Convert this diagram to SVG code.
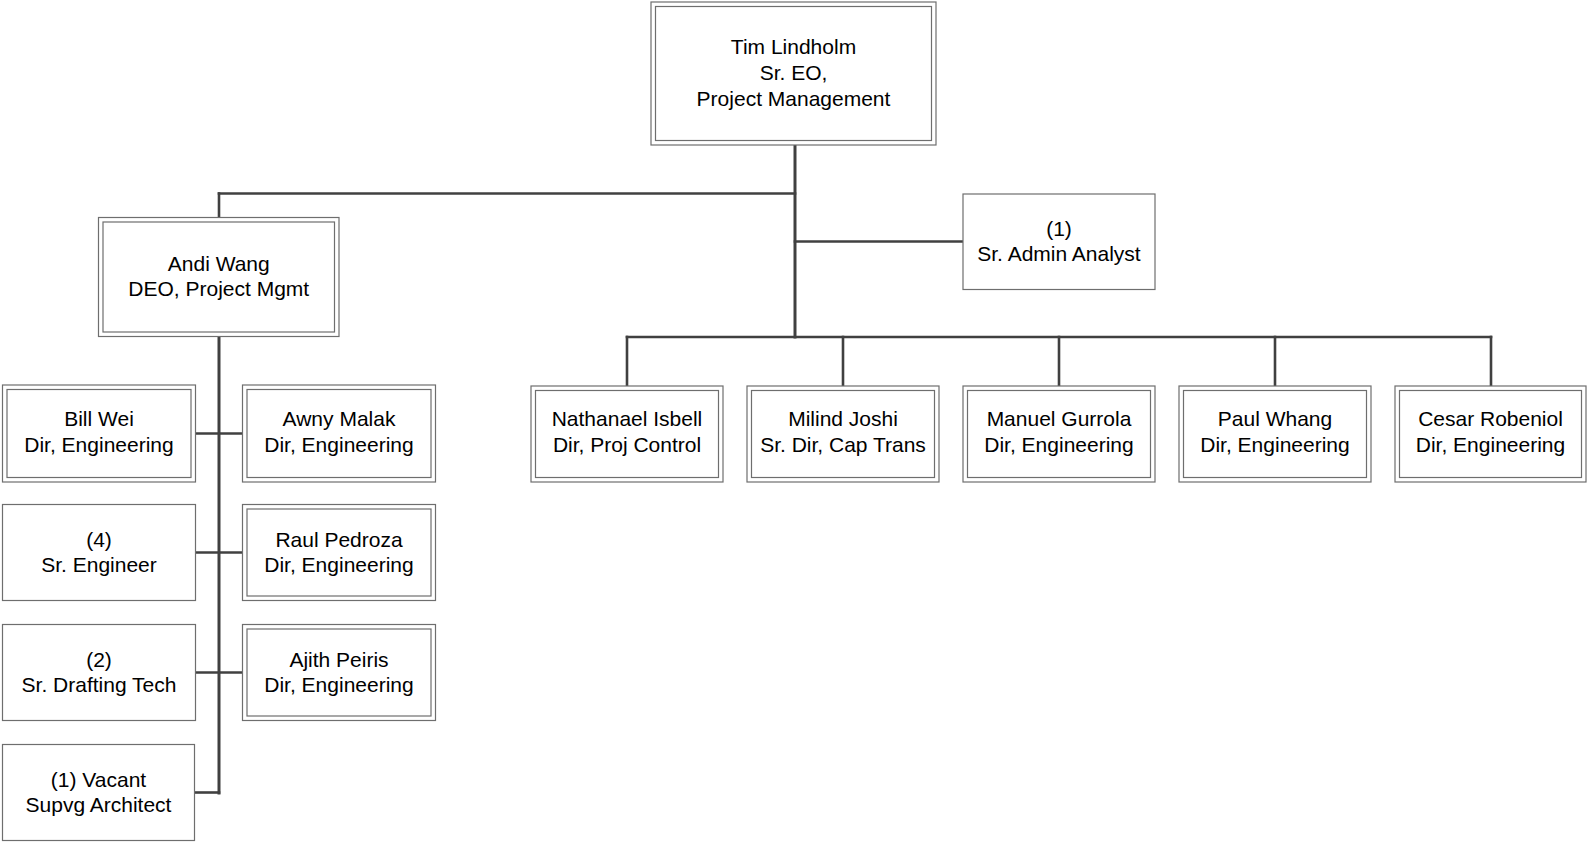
<svg xmlns="http://www.w3.org/2000/svg" width="1587" height="843" viewBox="0 0 1587 843">
<style>
  .o{fill:#fff;stroke:#6e6e6e;stroke-width:1.2}
  .i{fill:none;stroke:#6e6e6e;stroke-width:1.2}
  .s{fill:#fff;stroke:#6e6e6e;stroke-width:1.2}
  text{font-family:"Liberation Sans",Arial,sans-serif;font-size:21px;fill:#000;text-anchor:middle}
  .c line{stroke:#404040;stroke-width:2.6;stroke-linecap:square}
  .c line.t{stroke-width:3}
</style>
<rect width="1587" height="843" fill="#fff"/>
<g class="c" id="connectors">
  <line class="t" x1="795" y1="145" x2="795" y2="337"/>
  <line x1="219" y1="193.5" x2="795" y2="193.5"/>
  <line x1="219" y1="193.5" x2="219" y2="217.5"/>
  <line x1="795" y1="241.5" x2="963" y2="241.5"/>
  <line x1="627" y1="337" x2="1491" y2="337"/>
  <line x1="627" y1="337" x2="627" y2="386"/>
  <line x1="843" y1="337" x2="843" y2="386"/>
  <line x1="1059" y1="337" x2="1059" y2="386"/>
  <line x1="1275" y1="337" x2="1275" y2="386"/>
  <line x1="1491" y1="337" x2="1491" y2="386"/>
  <line class="t" x1="219" y1="337" x2="219" y2="793"/>
  <line x1="196" y1="433.5" x2="242.5" y2="433.5"/>
  <line x1="196" y1="552.5" x2="242.5" y2="552.5"/>
  <line x1="196" y1="672.5" x2="242.5" y2="672.5"/>
  <line x1="196" y1="792.5" x2="219" y2="792.5"/>
</g>
<g id="tim">
  <rect class="o" x="651" y="2" width="285" height="143"/>
  <rect class="i" x="655.5" y="6.5" width="276" height="134"/>
  <text x="793.5" y="54">Tim Lindholm</text>
  <text x="793.5" y="80">Sr. EO,</text>
  <text x="793.5" y="106">Project Management</text>
</g>
<g id="andi">
  <rect class="o" x="98.5" y="217.5" width="240.5" height="119"/>
  <rect class="i" x="103" y="222" width="231.5" height="110"/>
  <text x="218.75" y="270.5">Andi Wang</text>
  <text x="218.75" y="296">DEO, Project Mgmt</text>
</g>
<g id="admin">
  <rect class="s" x="963" y="194" width="192" height="95.5"/>
  <text x="1059" y="236">(1)</text>
  <text x="1059" y="261">Sr. Admin Analyst</text>
</g>
<g id="nathanael">
  <rect class="o" x="531" y="386" width="192" height="96"/>
  <rect class="i" x="535.5" y="390.5" width="183" height="87"/>
  <text x="627" y="426">Nathanael Isbell</text>
  <text x="627" y="451.5">Dir, Proj Control</text>
</g>
<g id="milind">
  <rect class="o" x="747" y="386" width="192" height="96"/>
  <rect class="i" x="751.5" y="390.5" width="183" height="87"/>
  <text x="843" y="426">Milind Joshi</text>
  <text x="843" y="451.5">Sr. Dir, Cap Trans</text>
</g>
<g id="manuel">
  <rect class="o" x="963" y="386" width="192" height="96"/>
  <rect class="i" x="967.5" y="390.5" width="183" height="87"/>
  <text x="1059" y="426">Manuel Gurrola</text>
  <text x="1059" y="451.5">Dir, Engineering</text>
</g>
<g id="paul">
  <rect class="o" x="1179" y="386" width="192" height="96"/>
  <rect class="i" x="1183.5" y="390.5" width="183" height="87"/>
  <text x="1275" y="426">Paul Whang</text>
  <text x="1275" y="451.5">Dir, Engineering</text>
</g>
<g id="cesar">
  <rect class="o" x="1395" y="386" width="191" height="96"/>
  <rect class="i" x="1399.5" y="390.5" width="182" height="87"/>
  <text x="1490.5" y="426">Cesar Robeniol</text>
  <text x="1490.5" y="451.5">Dir, Engineering</text>
</g>
<g id="bill">
  <rect class="o" x="2.5" y="385" width="193" height="97"/>
  <rect class="i" x="7" y="389.5" width="184" height="88"/>
  <text x="99" y="426">Bill Wei</text>
  <text x="99" y="451.5">Dir, Engineering</text>
</g>
<g id="awny">
  <rect class="o" x="242.5" y="385" width="193" height="97"/>
  <rect class="i" x="247" y="389.5" width="184" height="88"/>
  <text x="339" y="426">Awny Malak</text>
  <text x="339" y="451.5">Dir, Engineering</text>
</g>
<g id="sr-engineer">
  <rect class="s" x="2.5" y="504.5" width="193" height="96"/>
  <text x="99" y="546.5">(4)</text>
  <text x="99" y="571.5">Sr. Engineer</text>
</g>
<g id="raul">
  <rect class="o" x="242.5" y="504.5" width="193" height="96"/>
  <rect class="i" x="247" y="509" width="184" height="87"/>
  <text x="339" y="546.5">Raul Pedroza</text>
  <text x="339" y="571.5">Dir, Engineering</text>
</g>
<g id="drafting">
  <rect class="s" x="2.5" y="624.5" width="193" height="96"/>
  <text x="99" y="666.5">(2)</text>
  <text x="99" y="691.5">Sr. Drafting Tech</text>
</g>
<g id="ajith">
  <rect class="o" x="242.5" y="624.5" width="193" height="96"/>
  <rect class="i" x="247" y="629" width="184" height="87"/>
  <text x="339" y="666.5">Ajith Peiris</text>
  <text x="339" y="691.5">Dir, Engineering</text>
</g>
<g id="vacant">
  <rect class="s" x="2.5" y="744.5" width="192" height="96"/>
  <text x="98.5" y="786.5">(1) Vacant</text>
  <text x="98.5" y="811.5">Supvg Architect</text>
</g>
</svg>
